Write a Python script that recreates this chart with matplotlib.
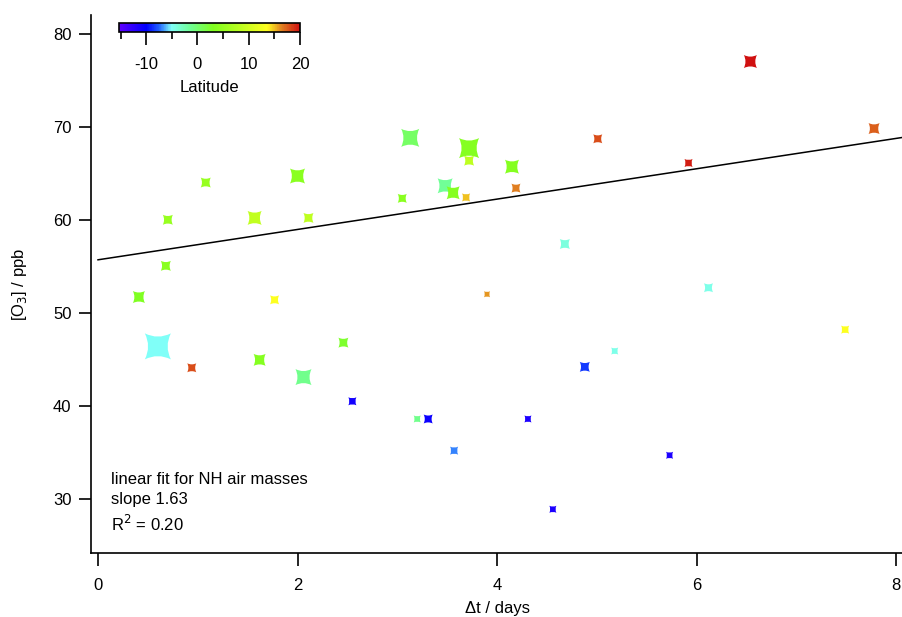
import numpy as np
import matplotlib
matplotlib.use('Agg')
import matplotlib.pyplot as plt
from matplotlib.path import Path
from matplotlib.colors import LinearSegmentedColormap, Normalize

plt.rcParams['font.family'] = ['Liberation Sans', 'DejaVu Sans']
plt.rcParams['axes.unicode_minus'] = False

# transport time (days), ozone (ppb), latitude, and marker weight (arbitrary)
dt_days = [0.41, 0.60, 0.70, 0.68, 0.94, 1.08, 1.57, 1.62, 1.77, 2.00,
           2.11, 2.06, 2.46, 2.55, 3.05, 3.13, 3.20, 3.31, 3.48, 3.56,
           3.57, 3.69, 3.72, 3.72, 3.90, 4.15, 4.19, 4.31, 4.56, 4.68,
           4.88, 5.01, 5.18, 5.92, 5.73, 6.12, 6.54, 7.49, 7.78]
o3_ppb = [51.7, 46.4, 60.0, 55.05, 44.1, 64.0, 60.2, 44.95, 51.4, 64.7,
          60.2, 43.1, 46.8, 40.5, 62.3, 68.8, 38.6, 38.6, 63.65, 62.9,
          35.2, 62.4, 67.7, 66.35, 52.0, 65.7, 63.4, 38.6, 28.9, 57.4,
          44.2, 68.7, 45.9, 66.1, 34.7, 52.7, 77.0, 48.2, 69.8]
latitude = [3, -5, 5, 4, 18, 5, 8.7, 3.5, 13.5, 4,
            8.5, -1, 2.5, -11, 4, 0.5, -1, -10.5, -1.5, 3.5,
            -7, 15, 3.5, 8.5, 16, 3.5, 16.5, -11.5, -11.5, -4,
            -8.5, 18, -4.5, 19.5, -11.5, -4.5, 20, 13.5, 17.5]
weight = [11, 25, 9, 9, 8, 9, 13, 11, 8, 14,
          9, 15, 9, 7, 8, 17, 6, 8, 14, 12,
          7, 7, 19, 9, 5, 13, 8, 6, 6, 9,
          9, 8, 6, 7, 6, 8, 12, 7, 10]

fit_slope = 1.63
fit_intercept = 55.7
fit_r2 = 0.20

cb_ticks = [-10, 0, 10, 20]
x_ticks = [0, 2, 4, 6, 8]
y_ticks = [30, 40, 50, 60, 70, 80]

# Igor-like rainbow
rainbow = LinearSegmentedColormap.from_list('igor_rainbow', [
    (0.00, '#6000ff'), (0.15, '#0000ff'), (0.22, '#2060ff'),
    (0.29, '#80fff8'), (0.40, '#70ff90'), (0.52, '#80ff20'),
    (0.68, '#c0ff20'), (0.82, '#ffff20'), (0.90, '#e08020'),
    (1.00, '#d01010')])
norm = Normalize(-15.3, 20)

# four-pointed star with concave sides
c = 0.5
verts = [(1, 1), (c, 0), (1, -1), (0, -c), (-1, -1), (-c, 0), (-1, 1), (0, c), (1, 1), (1, 1)]
codes = [Path.MOVETO, Path.CURVE3, Path.CURVE3, Path.CURVE3, Path.CURVE3,
         Path.CURVE3, Path.CURVE3, Path.CURVE3, Path.CURVE3, Path.CLOSEPOLY]
star = Path(verts, codes)

fig = plt.figure(figsize=(9.03, 6.17), dpi=100)
ax = fig.add_axes([0.1008, 0.1037, 0.8992, 0.872])

sizes = ((np.array(weight) + 1) * 72 / 100.0) ** 2
sc = ax.scatter(dt_days, o3_ppb, s=sizes, c=latitude, cmap=rainbow, norm=norm,
                marker=star, linewidths=0, zorder=3)

xfit = np.array([0, 8.1])
ax.plot(xfit, fit_intercept + fit_slope * xfit, color='black', lw=1.1, zorder=2)

ax.set_xlim(-0.07, 8.07)
ax.set_ylim(24.2, 82.0)
ax.set_xticks(x_ticks)
ax.set_yticks(y_ticks)
for s in ['top', 'right']:
    ax.spines[s].set_visible(False)
ax.spines['left'].set_linewidth(1.2)
ax.spines['bottom'].set_linewidth(1.2)
ax.tick_params(direction='out', length=9, width=1.2, labelsize=12, pad=5)
ax.tick_params(axis='x', pad=9)
ax.set_xlabel('Δt / days', fontsize=12, labelpad=6)
ax.set_ylabel('[O$_3$] / ppb', fontsize=12, labelpad=17)

ax.text(0.024, 0.035, 'linear fit for NH air masses\nslope %.2f\nR$^2$ = %.2f' % (fit_slope, fit_r2),
        transform=ax.transAxes, fontsize=12, va='bottom', ha='left', linespacing=1.4)

cax = fig.add_axes([0.1318, 0.9481, 0.2004, 0.0146])
cb = fig.colorbar(sc, cax=cax, orientation='horizontal')
cb.set_ticks(cb_ticks)
cb.ax.set_xticks([-15, -5, 5, 15], minor=True)
cb.ax.tick_params(which='major', direction='out', length=9, width=1.2, labelsize=12, pad=9)
cb.ax.tick_params(which='minor', direction='out', length=5, width=1.2)
cb.outline.set_linewidth(1.2)
cb.set_label('Latitude', fontsize=12, labelpad=6)

fig.savefig('out.png', dpi=100)
